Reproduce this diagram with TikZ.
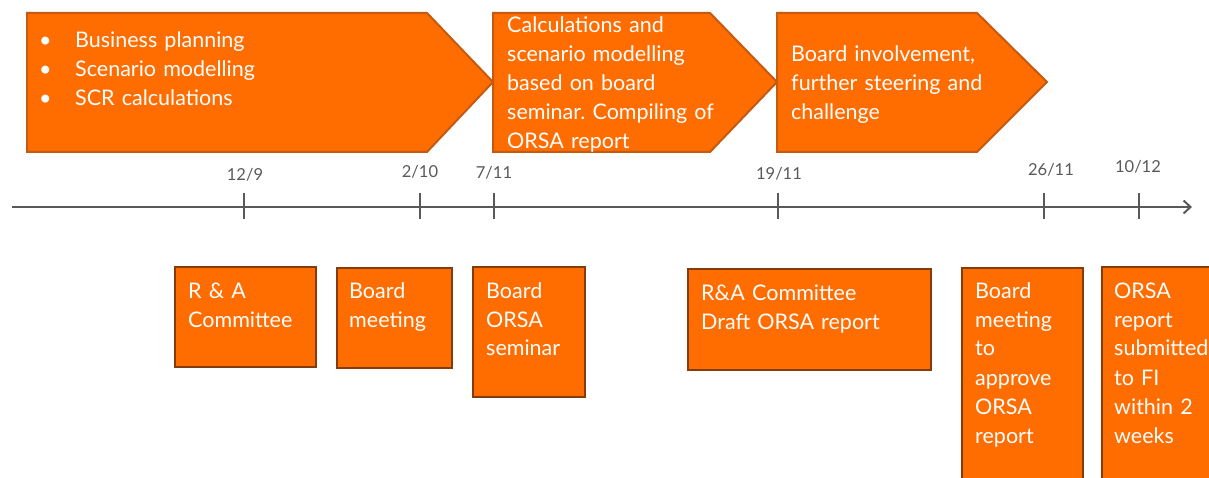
\documentclass[tikz,border=0pt]{standalone}
\usepackage{fontspec}
\setmainfont{Lato}
\usetikzlibrary{arrows.meta}
\frenchspacing
\definecolor{orfill}{RGB}{255,108,0}
\definecolor{orline}{RGB}{197,90,17}
\definecolor{brline}{RGB}{132,60,12}
\definecolor{axgray}{RGB}{89,89,89}
\tikzset{
  chev/.style={fill=orfill,draw=orline,line width=2pt,line join=miter},
  evbox/.style={fill=orfill,draw=brline,line width=2.6pt},
  btxt/.style={anchor=base west,inner sep=0pt,text=white,align=left,font=\fontsize{21.5}{29}\selectfont},
  datelbl/.style={anchor=base,inner sep=0pt,text=axgray,font=\fontsize{16.5}{18}\selectfont},
  tickmark/.style={draw=axgray,line width=2pt},
}
\begin{document}
\begin{tikzpicture}[x=1pt,y=-1pt]
\frenchspacing
\useasboundingbox (0,0) rectangle (1209,478);
\clip (0,0) rectangle (1209,478);
% chevrons
\draw[chev] (27,13) -- (427,13) -- (493,82) -- (427,152) -- (27,152) -- cycle;
\draw[chev] (493,13) -- (710,13) -- (777,82) -- (710,152) -- (493,152) -- cycle;
\draw[chev] (777,13) -- (977,13) -- (1047,82) -- (977,152) -- (777,152) -- cycle;
\begin{scope}
\clip (27,13) rectangle (1100,152);
\node[btxt,text width=20pt] (bul1) at (39,48) {•\\•\\•};
\node[btxt,text width=300pt] (t1) at (75,48) {Business planning\\Scenario modelling\\SCR calculations};
\node[btxt,text width=260pt] (t2) at (507,33) {Calculations and\\scenario modelling\\based on board\\seminar. Compiling of\\ORSA report};
\node[btxt,text width=260pt] (t3) at (791,62) {Board involvement,\\further steering and\\challenge};
\end{scope}
% axis
\coordinate (axs) at (12,207);
\coordinate (axe) at (1192,207);
\draw[axgray,line width=2pt,-{Straight Barb[length=7pt,width=13pt,line width=2pt]}] (axs) -- (axe);
\foreach \x/\n in {244/a,420/b,494/c,778/d,1044/e,1139/f}{
  \coordinate (tt\n) at (\x,193);
  \coordinate (tb\n) at (\x,219);
  \draw[tickmark] (tt\n) -- (tb\n);
}
\node[datelbl] (d1) at (245,181) {12/9};
\node[datelbl] (d2) at (420,178) {2/10};
\node[datelbl] (d3) at (494,179) {7/11};
\node[datelbl] (d4) at (779,180) {19/11};
\node[datelbl] (d5) at (1051,176) {26/11};
\node[datelbl] (d6) at (1138,173) {10/12};
% event boxes
\draw[evbox] (175,267) rectangle (316,367);
\draw[evbox] (337,268) rectangle (452,368);
\draw[evbox] (473,267) rectangle (585,397);
\draw[evbox] (688,269) rectangle (931,370);
\draw[evbox] (962,268) rectangle (1083,490);
\draw[evbox] (1102,267) rectangle (1230,490);
\node[btxt,text width=130pt] (e1) at (188,298) {R \& A\\Committee};
\node[btxt,text width=110pt] (e2) at (349,298) {Board\\meeting};
\node[btxt,text width=110pt] (e3) at (486,298) {Board\\ORSA\\seminar};
\node[btxt,text width=240pt] (e4) at (701,300) {R\&A Committee\\Draft ORSA report};
\node[btxt,text width=120pt] (e5) at (975,298) {Board\\meeting\\to\\approve\\ORSA\\report};
\node[btxt,text width=120pt] (e6) at (1114,298) {ORSA\\report\\submitted\\to FI\\within 2\\weeks};
\end{tikzpicture}
\end{document}
